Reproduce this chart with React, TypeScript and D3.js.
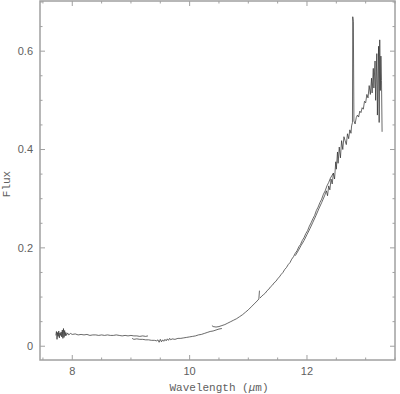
import React, { useRef, useEffect } from 'react'
import { select, scaleLinear, line } from 'd3'

// spectrum pieces, [wavelength um, flux]
const seg1 = [
  [7.72, 0.022], [7.73, 0.030], [7.74, 0.014], [7.75, 0.028], [7.76, 0.020], [7.77, 0.031],
  [7.78, 0.017], [7.79, 0.027], [7.80, 0.022], [7.81, 0.029], [7.82, 0.019], [7.83, 0.033],
  [7.84, 0.016], [7.85, 0.036], [7.86, 0.018], [7.87, 0.032], [7.88, 0.021], [7.89, 0.028],
  [7.90, 0.022], [7.92, 0.027], [7.94, 0.023], [7.97, 0.026], [8.00, 0.024], [8.05, 0.025],
  [8.10, 0.023], [8.15, 0.024], [8.20, 0.023], [8.25, 0.024], [8.30, 0.022], [8.35, 0.023],
  [8.40, 0.023], [8.45, 0.022], [8.50, 0.023], [8.55, 0.022], [8.60, 0.023], [8.65, 0.022],
  [8.70, 0.022], [8.75, 0.023], [8.80, 0.022], [8.85, 0.021], [8.90, 0.022], [8.95, 0.021],
  [9.00, 0.022], [9.05, 0.021], [9.10, 0.021], [9.15, 0.020], [9.20, 0.021], [9.25, 0.020],
  [9.29, 0.021]
]

const seg2 = [
  [9.02, 0.016], [9.05, 0.014], [9.10, 0.015], [9.15, 0.014], [9.20, 0.014], [9.25, 0.013],
  [9.30, 0.013], [9.35, 0.012], [9.40, 0.012], [9.44, 0.011], [9.46, 0.013], [9.48, 0.008],
  [9.50, 0.014], [9.52, 0.009], [9.54, 0.013], [9.56, 0.010], [9.58, 0.014], [9.60, 0.011],
  [9.62, 0.015], [9.64, 0.012], [9.66, 0.016], [9.68, 0.013], [9.70, 0.015], [9.75, 0.014],
  [9.80, 0.016], [9.85, 0.016], [9.90, 0.017], [9.95, 0.018], [10.00, 0.019], [10.05, 0.020],
  [10.10, 0.021], [10.15, 0.023], [10.20, 0.024], [10.25, 0.026], [10.30, 0.028], [10.35, 0.030],
  [10.40, 0.031], [10.45, 0.033], [10.50, 0.035], [10.55, 0.036]
]

const seg3 = [
  [10.38, 0.042], [10.40, 0.040], [10.45, 0.039], [10.50, 0.040], [10.55, 0.042], [10.60, 0.044],
  [10.65, 0.047], [10.70, 0.050], [10.75, 0.053], [10.80, 0.056], [10.85, 0.060], [10.90, 0.064],
  [10.95, 0.069], [11.00, 0.074], [11.05, 0.080], [11.10, 0.086], [11.15, 0.092], [11.18, 0.096],
  [11.19, 0.113]
]

const seg4 = [
  [11.20, 0.098], [11.23, 0.102], [11.26, 0.105], [11.29, 0.108], [11.32, 0.113], [11.35, 0.116],
  [11.38, 0.121], [11.41, 0.124], [11.44, 0.129], [11.47, 0.132], [11.50, 0.137], [11.53, 0.141],
  [11.56, 0.146], [11.59, 0.150], [11.62, 0.156], [11.65, 0.160], [11.68, 0.166], [11.71, 0.170],
  [11.74, 0.177], [11.77, 0.182], [11.80, 0.189], [11.83, 0.194], [11.86, 0.202], [11.89, 0.207],
  [11.92, 0.215], [11.95, 0.221], [11.98, 0.229], [12.01, 0.235], [12.04, 0.244], [12.07, 0.251],
  [12.10, 0.259], [12.13, 0.266], [12.16, 0.276], [12.19, 0.283], [12.22, 0.292], [12.25, 0.299],
  [12.28, 0.309], [12.31, 0.316], [12.34, 0.326], [12.37, 0.333], [12.40, 0.342], [12.43, 0.348],
  [12.45, 0.352]
]

const seg5 = [
  [11.80, 0.184], [11.85, 0.194], [11.90, 0.205], [11.95, 0.215], [12.00, 0.227], [12.05, 0.239],
  [12.10, 0.252], [12.15, 0.265], [12.20, 0.279], [12.25, 0.292], [12.30, 0.306], [12.33, 0.316],
  [12.35, 0.306], [12.37, 0.326], [12.39, 0.318], [12.41, 0.340], [12.43, 0.330], [12.45, 0.352],
  [12.47, 0.340], [12.49, 0.375], [12.50, 0.360], [12.52, 0.395], [12.53, 0.372], [12.55, 0.405],
  [12.57, 0.383], [12.59, 0.418], [12.61, 0.400], [12.63, 0.426], [12.65, 0.418], [12.67, 0.410],
  [12.69, 0.432], [12.71, 0.422], [12.73, 0.440], [12.75, 0.433], [12.76, 0.448], [12.775, 0.455],
  [12.78, 0.670], [12.79, 0.660], [12.80, 0.458], [12.82, 0.452], [12.84, 0.465], [12.86, 0.470],
  [12.88, 0.466], [12.90, 0.478], [12.92, 0.475], [12.94, 0.485], [12.96, 0.482], [12.98, 0.498],
  [13.00, 0.495], [13.02, 0.512], [13.04, 0.505], [13.06, 0.530], [13.08, 0.512], [13.10, 0.545],
  [13.11, 0.515], [13.13, 0.565], [13.14, 0.525], [13.16, 0.580], [13.17, 0.500], [13.19, 0.595],
  [13.20, 0.470], [13.22, 0.610], [13.23, 0.455], [13.24, 0.623], [13.25, 0.520], [13.26, 0.590],
  [13.27, 0.540], [13.28, 0.436]
]

const segments = [seg1, seg2, seg3, seg4, seg5]
const xLabels = [8, 10, 12]
const yLabels = [0, 0.2, 0.4, 0.6]

function App() {
  const ref = useRef<SVGSVGElement>(null)
  const width = 400, height = 394
  const left = 40, right = 395, top = 1, bottom = 360

  useEffect(() => {
    const svg = select(ref.current)
    svg.selectAll('*').remove()

    const x = scaleLinear().domain([7.45, 13.5]).range([left, right])
    const y = scaleLinear().domain([-0.028, 0.702]).range([bottom, top])

    const frame = '#a0a0a0'
    const textCol = '#606060'

    // ticks on all four sides, pointing in
    x.ticks(12).forEach(t => {
      const major = xLabels.some(v => Math.abs(v - t) < 1e-6)
      const len = major ? 5 : 2.5
      svg.append('line').attr('x1', x(t)).attr('x2', x(t))
        .attr('y1', bottom).attr('y2', bottom - len).attr('stroke', frame)
      svg.append('line').attr('x1', x(t)).attr('x2', x(t))
        .attr('y1', top).attr('y2', top + len).attr('stroke', frame)
    })
    y.ticks(15).forEach(t => {
      const major = yLabels.some(v => Math.abs(v - t) < 1e-6)
      const len = major ? 5 : 2.5
      svg.append('line').attr('y1', y(t)).attr('y2', y(t))
        .attr('x1', left).attr('x2', left + len).attr('stroke', frame)
      svg.append('line').attr('y1', y(t)).attr('y2', y(t))
        .attr('x1', right).attr('x2', right - len).attr('stroke', frame)
    })

    svg.append('rect')
      .attr('x', left).attr('y', top)
      .attr('width', right - left).attr('height', bottom - top)
      .attr('fill', 'none').attr('stroke', frame).attr('stroke-width', 1.5)

    xLabels.forEach(v => {
      svg.append('text')
        .attr('x', x(v)).attr('y', 375)
        .attr('text-anchor', 'middle')
        .style('font-family', '"Liberation Sans", Arial, sans-serif')
        .style('font-size', '11px')
        .attr('fill', textCol)
        .text(v)
    })
    yLabels.forEach(v => {
      svg.append('text')
        .attr('x', 33).attr('y', y(v) + 3.8)
        .attr('text-anchor', 'end')
        .style('font-family', '"Liberation Sans", Arial, sans-serif')
        .style('font-size', '11px')
        .attr('fill', textCol)
        .text(v)
    })

    const title = svg.append('text')
      .attr('x', 219).attr('y', 391)
      .attr('text-anchor', 'middle')
      .style('font-family', '"Liberation Mono", "Courier New", monospace')
      .style('font-size', '11px')
      .attr('fill', textCol)
    title.append('tspan').text('Wavelength (')
    title.append('tspan').style('font-style', 'italic').text('\u03bc')
    title.append('tspan').text('m)')

    svg.append('text')
      .attr('transform', 'translate(10,184) rotate(-90)')
      .attr('text-anchor', 'middle')
      .style('font-family', '"Liberation Mono", "Courier New", monospace')
      .style('font-size', '11px')
      .attr('fill', textCol)
      .text('Flux')

    const lineGen = line<number[]>()
      .x(d => x(d[0]))
      .y(d => y(d[1]))

    segments.forEach(seg => {
      svg.append('path')
        .datum(seg)
        .attr('d', lineGen)
        .attr('fill', 'none')
        .attr('stroke', '#2a2a2a')
        .attr('stroke-width', 0.7)
        .attr('stroke-linejoin', 'round')
    })
  }, [])

  return (
    <svg ref={ref} width={width} height={height}
      style={{ position: 'absolute', left: 0, top: 0, background: '#fff' }} />
  )
}

export default App
